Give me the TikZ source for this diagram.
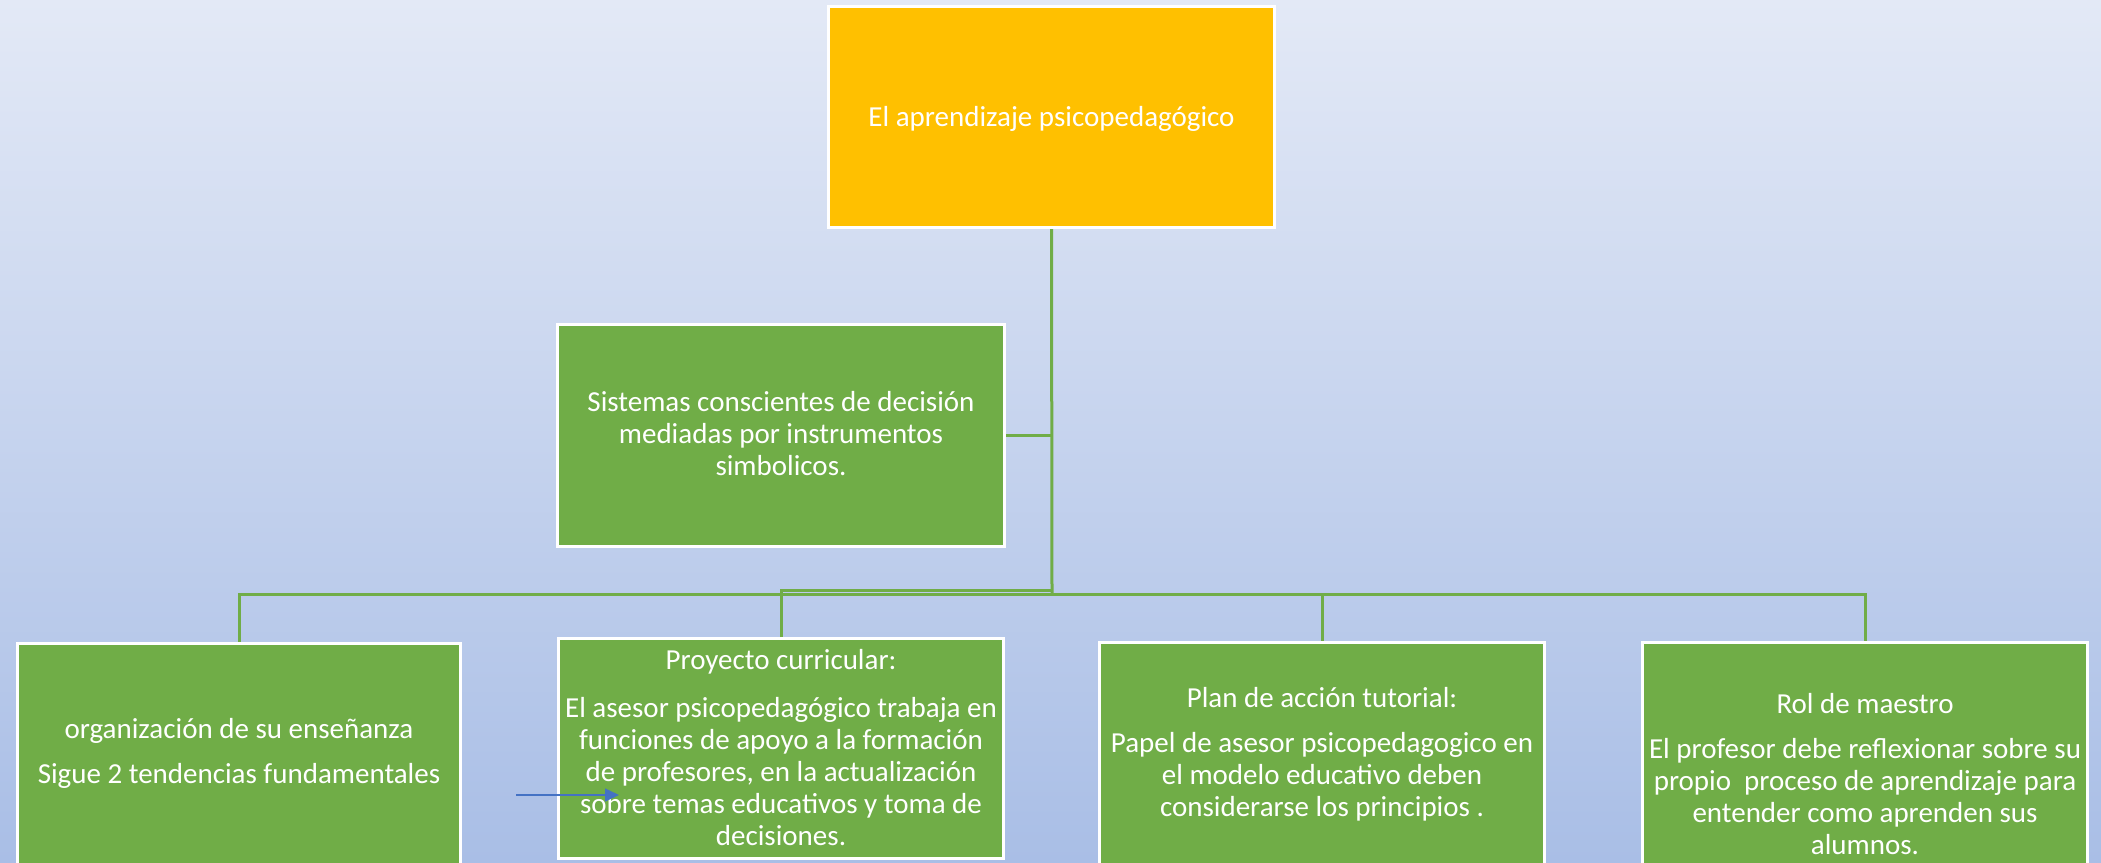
\documentclass[tikz,border=0pt]{standalone}
\usepackage{fontspec}
\setmainfont{Carlito}
\usetikzlibrary{arrows.meta}
\definecolor{bgtop}{RGB}{227,233,246}
\definecolor{bgbot}{RGB}{169,190,230}
\definecolor{boxgreen}{RGB}{112,173,71}
\definecolor{boxgold}{RGB}{255,192,0}
\definecolor{arrowblue}{RGB}{68,114,196}
\tikzset{
  card/.style={draw=white, line width=3pt, fill=boxgreen, rectangle, inner sep=0pt},
  goldcard/.style={card, fill=boxgold},
  txt/.style={text=white, align=center, inner sep=0pt, anchor=north,
    font=\fontsize{29}{32}\selectfont},
  link/.style={draw=boxgreen, line width=3pt},
  pointer/.style={draw=arrowblue, line width=1.5pt, -{Triangle[length=14pt,width=13pt]}}
}
\newcommand{\fl}{\rule{0pt}{25pt}}
\begin{document}
\begin{tikzpicture}[x=1pt,y=-1pt]
\useasboundingbox (0,0) rectangle (2101,862);
\shade[top color=bgtop, bottom color=bgbot] (0,0) rectangle (2101,862);

% boxes
\node[goldcard, minimum width=446pt, minimum height=221pt] (top) at (1051.5,117) {};
\node[card, minimum width=447pt, minimum height=222pt] (mid) at (781,435.5) {};
\node[card, minimum width=443pt, minimum height=240pt] (b1) at (239,763) {};
\node[card, minimum width=445pt, minimum height=220pt] (b2) at (781,748.5) {};
\node[card, minimum width=445pt, minimum height=240pt] (b3) at (1322,762) {};
\node[card, minimum width=445pt, minimum height=240pt] (b4) at (1865,762) {};

% texts
\node[txt] (ttop) at (1051.5,101) {\fl El aprendizaje psicopedagógico};
\node[txt] (tmid) at (781,386) {\fl Sistemas conscientes de decisión\\mediadas por instrumentos\\simbolicos.};
\node[txt] (t1) at (239,713) {\fl organización de su enseñanza\\[13pt]Sigue 2 tendencias fundamentales};
\node[txt] (t2) at (781,644) {\fl Proyecto curricular:\\[16pt]El asesor psicopedagógico trabaja en\\funciones de apoyo a la formación\\de profesores, en la actualización\\sobre temas educativos y toma de\\decisiones.};
\node[txt] (t3) at (1322,682) {\fl Plan de acción tutorial:\\[13pt]Papel de asesor psicopedagogico en\\el modelo educativo deben\\considerarse los principios .};
\node[txt] (t4) at (1865,688) {\fl Rol de maestro\\[13pt]El profesor debe reflexionar sobre su\\propio\ \ proceso de aprendizaje para\\entender como aprenden sus\\alumnos.};

% connectors
\coordinate (hub) at (1052,594);
\coordinate (hubb) at (1052,590);
\draw[link] (top.south) -- (hub);
\draw[link] (mid.east) -- (mid.east -| hub);
\draw[link] (b1.north) |- (hub);
\draw[link] (b4.north) |- (hub);
\draw[link] (b3.north) -- (b3.north |- hub);
\draw[link] (b2.north) |- (hubb);

% stray arrow
\coordinate (as) at (516,795);
\coordinate (ae) at (619,795);
\draw[pointer] (as) -- (ae);
\end{tikzpicture}
\end{document}
